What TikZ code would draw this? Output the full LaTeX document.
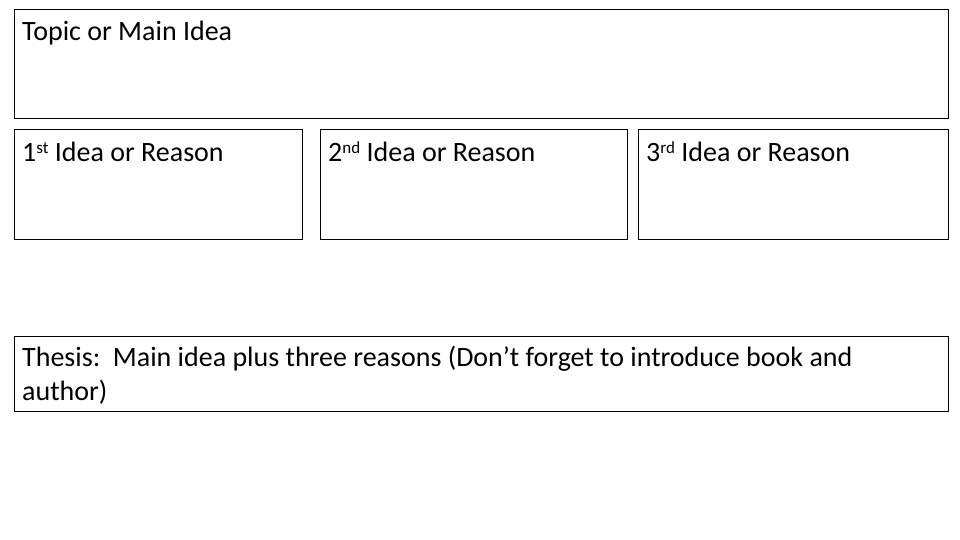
\documentclass[tikz,border=0pt]{standalone}
\usepackage{fontspec}
\setmainfont{Carlito}
\newcommand{\supx}[1]{\raisebox{0.32em}{\fontsize{17}{17}\selectfont #1}}
\begin{document}
\begin{tikzpicture}[x=1pt,y=-1pt,
  box/.style={draw=black,line width=1pt},
  lbl/.style={anchor=base west,inner sep=0pt,font=\fontsize{28}{34}\selectfont}]
\useasboundingbox (0,0) rectangle (960,540);
\draw[box] (14,10) rectangle (948,119);
\draw[box] (14,130) rectangle (302,239);
\draw[box] (320,130) rectangle (627,239);
\draw[box] (638,130) rectangle (948,239);
\draw[box] (14,336) rectangle (948,411);
\node[lbl] (topic) at (22,41) {Topic or Main Idea};
\node[lbl] (r1) at (22,162) {1\supx{st} Idea or Reason};
\node[lbl] (r2) at (328,162) {2\supx{nd} Idea or Reason};
\node[lbl] (r3) at (646,162) {3\supx{rd} Idea or Reason};
\node[lbl] (th1) at (22,366) {Thesis:\ \ Main idea plus three reasons (Don’t forget to introduce book and};
\node[lbl] (th2) at (22,400) {author)};
\end{tikzpicture}
\end{document}
